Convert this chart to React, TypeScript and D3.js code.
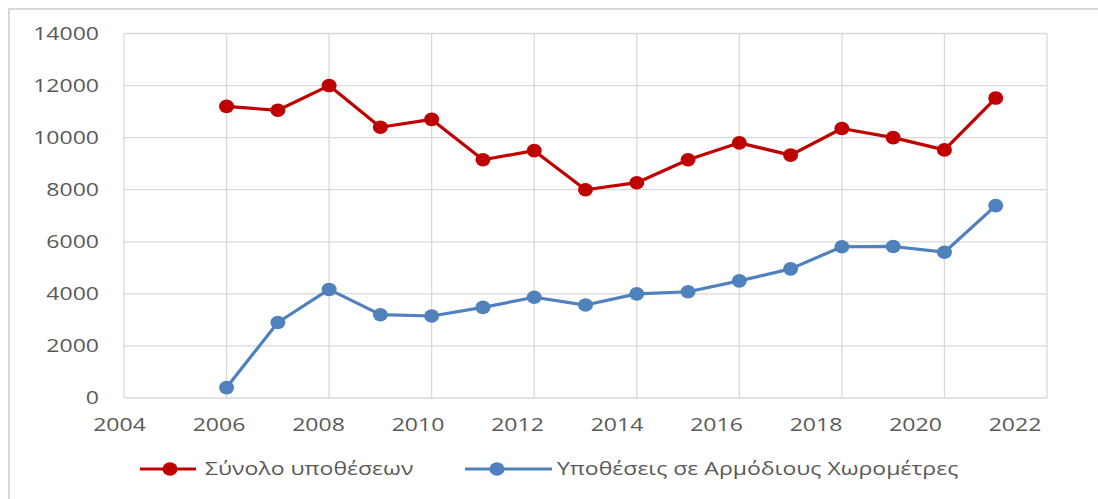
import React, { useEffect, useRef } from "react";
import * as d3 from "d3";

// years on the x axis
const years = [2006, 2007, 2008, 2009, 2010, 2011, 2012, 2013, 2014, 2015, 2016, 2017, 2018, 2019, 2020, 2021];

// Σύνολο υποθέσεων
const totalCases = [11200, 11050, 12000, 10400, 10700, 9150, 9500, 8000, 8270, 9150, 9800, 9330, 10350, 10000, 9530, 11520];

// Υποθέσεις σε Αρμόδιους Χωρομέτρες
const surveyorCases = [400, 2900, 4170, 3200, 3150, 3480, 3870, 3570, 4000, 4080, 4500, 4960, 5810, 5820, 5600, 7390];

const xTicks = [2004, 2006, 2008, 2010, 2012, 2014, 2016, 2018, 2020, 2022];
const yTicks = [0, 2000, 4000, 6000, 8000, 10000, 12000, 14000];

const seriesNames = ["Σύνολο υποθέσεων", "Υποθέσεις σε Αρμόδιους Χωρομέτρες"];
const seriesColors = ["#C00000", "#4F81BD"];

const W = 1098;
const H = 499;
const FONT = "'Open Sans', sans-serif";
const STRETCH = 1.28; // the reference text is stretched sideways

export default function App() {
  const svgRef = useRef<SVGSVGElement>(null);

  useEffect(() => {
    document.body.style.margin = "0";
    const svg = d3.select(svgRef.current);
    svg.selectAll("*").remove();

    const x = d3.scaleLinear().domain([2004, 2022]).range([124, 1047]);
    const xLabel = d3.scaleLinear().domain([2004, 2022]).range([119.5, 1015]);
    const y = d3.scaleLinear().domain([0, 14000]).range([398, 33.5]);

    // outer chart frame
    svg
      .append("rect")
      .attr("x", 9)
      .attr("y", 9)
      .attr("width", W + 20)
      .attr("height", H + 20)
      .attr("fill", "white")
      .attr("stroke", "#D9D9D9")
      .attr("stroke-width", 2);

    // gridlines
    const grid = svg.append("g").attr("stroke", "#D9D9D9").attr("stroke-width", 1.3);
    grid
      .selectAll("line.h")
      .data(yTicks)
      .join("line")
      .attr("x1", x(2004))
      .attr("x2", x(2022))
      .attr("y1", (d) => y(d))
      .attr("y2", (d) => y(d));
    grid
      .selectAll("line.v")
      .data(xTicks)
      .join("line")
      .attr("x1", (d) => x(d))
      .attr("x2", (d) => x(d))
      .attr("y1", y(0))
      .attr("y2", y(14000));

    // tick labels
    svg
      .append("g")
      .selectAll("text")
      .data(yTicks)
      .join("text")
      .attr("transform", (d) => `translate(99,${y(d)}) scale(${STRETCH},1)`)
      .attr("text-anchor", "end")
      .attr("dy", "0.36em")
      .attr("font-family", FONT)
      .attr("font-size", 18)
      .attr("fill", "#595959")
      .text((d) => d);

    svg
      .append("g")
      .selectAll("text")
      .data(xTicks)
      .join("text")
      .attr("transform", (d) => `translate(${xLabel(d)},425) scale(${STRETCH},1)`)
      .attr("text-anchor", "middle")
      .attr("dy", "0.36em")
      .attr("font-family", FONT)
      .attr("font-size", 18)
      .attr("fill", "#595959")
      .text((d) => d);

    // lines + markers
    const line = d3
      .line<number>()
      .x((_, i) => x(years[i]))
      .y((d) => y(d));

    [totalCases, surveyorCases].forEach((vals, s) => {
      svg
        .append("path")
        .datum(vals)
        .attr("d", line)
        .attr("fill", "none")
        .attr("stroke", seriesColors[s])
        .attr("stroke-width", 3.2)
        .attr("stroke-linejoin", "round");
      svg
        .append("g")
        .selectAll("ellipse")
        .data(vals)
        .join("ellipse")
        .attr("cx", (_, i) => x(years[i]))
        .attr("cy", (d) => y(d))
        .attr("rx", 7.5)
        .attr("ry", 6.8)
        .attr("fill", seriesColors[s]);
    });

    // legend
    const legendItems = [
      { x0: 140, x1: 196, tx: 205 },
      { x0: 465, x1: 552, tx: 557 },
    ];
    legendItems.forEach((it, s) => {
      const g = svg.append("g");
      g.append("line")
        .attr("x1", it.x0)
        .attr("x2", it.x1)
        .attr("y1", 469)
        .attr("y2", 469)
        .attr("stroke", seriesColors[s])
        .attr("stroke-width", 3.2);
      g.append("ellipse")
        .attr("cx", s === 0 ? 170 : 497)
        .attr("cy", 469)
        .attr("rx", 7.5)
        .attr("ry", 6.8)
        .attr("fill", seriesColors[s]);
      g.append("text")
        .attr("transform", `translate(${it.tx},469) scale(${STRETCH},1)`)
        .attr("dy", "0.36em")
        .attr("font-family", FONT)
        .attr("font-size", 18)
        .attr("fill", "#595959")
        .text(seriesNames[s]);
    });
  }, []);

  return <svg ref={svgRef} width={W} height={H} style={{ display: "block" }}></svg>;
}
